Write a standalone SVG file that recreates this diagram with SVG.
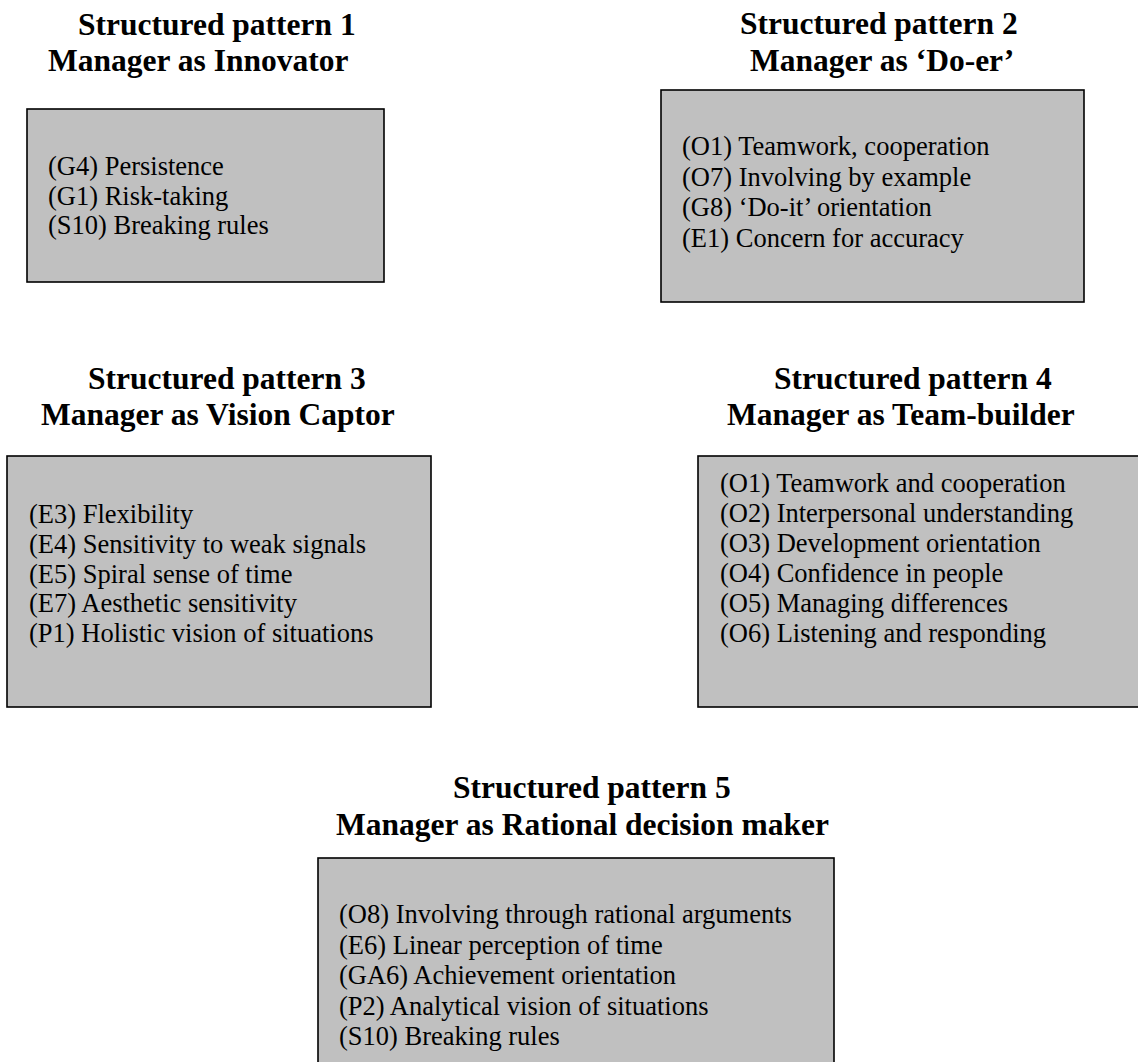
<svg xmlns="http://www.w3.org/2000/svg" width="1138" height="1062" viewBox="0 0 1138 1062">
<style>
.box{fill:#c0c0c0;stroke:#000;stroke-width:1.6}
.t{font-family:"Liberation Serif","Times New Roman",serif;font-size:31.5px;font-weight:bold;fill:#000}
.b{font-family:"Liberation Serif","Times New Roman",serif;font-size:26.5px;fill:#000}
</style>
<rect width="1138" height="1062" fill="#fff"/>
<g id="connectors"/>
<g id="pattern1">
<text class="t" x="78" y="35">Structured pattern 1</text>
<text class="t" x="48" y="71">Manager as Innovator</text>
<rect class="box" x="27" y="109" width="357" height="173"/>
<text class="b" x="48" y="175">(G4) Persistence</text>
<text class="b" x="48" y="204.5">(G1) Risk-taking</text>
<text class="b" x="48" y="234">(S10) Breaking rules</text>
</g>
<g id="pattern2">
<text class="t" x="740" y="34">Structured pattern 2</text>
<text class="t" x="750" y="71">Manager as ‘Do-er’</text>
<rect class="box" x="661" y="90" width="423" height="212"/>
<text class="b" x="682" y="155">(O1) Teamwork, cooperation</text>
<text class="b" x="682" y="185.5">(O7) Involving by example</text>
<text class="b" x="682" y="216">(G8) ‘Do-it’ orientation</text>
<text class="b" x="682" y="246.5">(E1) Concern for accuracy</text>
</g>
<g id="pattern3">
<text class="t" x="88" y="389">Structured pattern 3</text>
<text class="t" x="41" y="425">Manager as Vision Captor</text>
<rect class="box" x="7" y="456" width="424" height="251"/>
<text class="b" x="29" y="523">(E3) Flexibility</text>
<text class="b" x="29" y="553">(E4) Sensitivity to weak signals</text>
<text class="b" x="29" y="582.5">(E5) Spiral sense of time</text>
<text class="b" x="29" y="612">(E7) Aesthetic sensitivity</text>
<text class="b" x="29" y="641.5">(P1) Holistic vision of situations</text>
</g>
<g id="pattern4">
<text class="t" x="774" y="389">Structured pattern 4</text>
<text class="t" x="727" y="425">Manager as Team-builder</text>
<rect class="box" x="698" y="456" width="445" height="251"/>
<text class="b" x="720" y="492">(O1) Teamwork and cooperation</text>
<text class="b" x="720" y="522">(O2) Interpersonal understanding</text>
<text class="b" x="720" y="552">(O3) Development orientation</text>
<text class="b" x="720" y="582">(O4) Confidence in people</text>
<text class="b" x="720" y="612">(O5) Managing differences</text>
<text class="b" x="720" y="642">(O6) Listening and responding</text>
</g>
<g id="pattern5">
<text class="t" x="453" y="798">Structured pattern 5</text>
<text class="t" x="336" y="835">Manager as Rational decision maker</text>
<rect class="box" x="318" y="858" width="516" height="215"/>
<text class="b" x="339" y="923">(O8) Involving through rational arguments</text>
<text class="b" x="339" y="953.5">(E6) Linear perception of time</text>
<text class="b" x="339" y="984">(GA6) Achievement orientation</text>
<text class="b" x="339" y="1014.5">(P2) Analytical vision of situations</text>
<text class="b" x="339" y="1045">(S10) Breaking rules</text>
</g>
</svg>
